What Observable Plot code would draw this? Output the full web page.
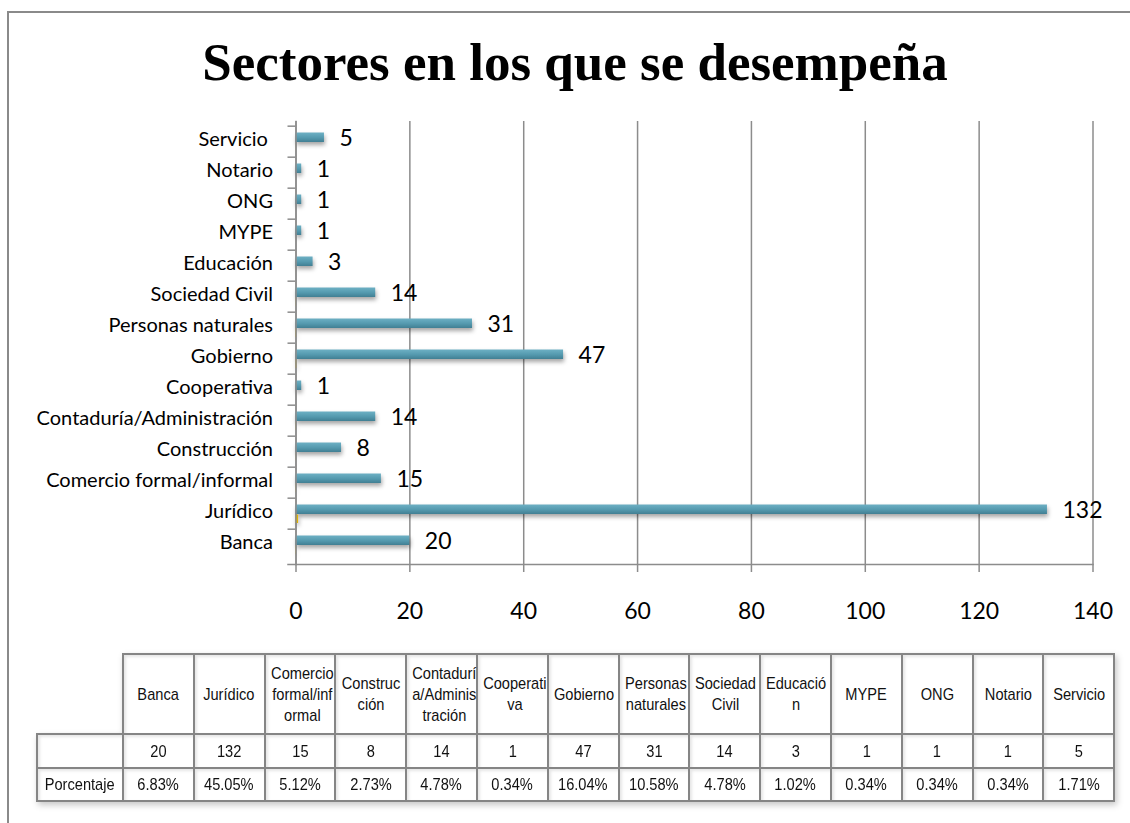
<!DOCTYPE html>
<html>
<head>
<meta charset="utf-8">
<script src="https://cdn.jsdelivr.net/npm/d3@7"></script>
<script src="https://cdn.jsdelivr.net/npm/@observablehq/plot@0.6"></script>
<style>
  html, body { margin: 0; padding: 0; background: #fff; }
  body { width: 1130px; height: 823px; position: relative; overflow: hidden; }
  #frame { position: absolute; left: 7px; top: 11px; width: 1300px; height: 1000px; border: 2px solid #8a8a8a; box-sizing: border-box; }
  #title { position: absolute; left: 0; top: 35px; width: 1150px; text-align: center;
    font-family: "Liberation Serif", "Times New Roman", serif; font-weight: bold; font-size: 53px; line-height: 54px; color: #000; }
  #chart { position: absolute; left: 0; top: 100px; }
  #chart svg g[aria-label="bar"] { filter: drop-shadow(1px 3px 2px rgba(0,0,0,0.35)); }
  #chart svg g[aria-label="y-axis tick label"] text { white-space: pre; }
  #tbl { position: absolute; left: 36px; top: 653px; width: 1077px; border-collapse: collapse; table-layout: fixed;
    font-family: "Liberation Sans", Arial, sans-serif; font-size: 17px; color: #111;
    filter: drop-shadow(2px 3px 3px rgba(0,0,0,0.22)); }
  #tbl td { border: 2px solid #858585; text-align: center; vertical-align: middle; padding: 0; line-height: 21px;
    box-shadow: inset 2px 2px 3px rgba(0,0,0,0.10); background: #fff; overflow: visible; }
  #tbl td span { display: inline-block; white-space: pre-line; transform: scaleX(0.86); transform-origin: center; }
  #tbl td.empty { border-top: none; border-left: none; box-shadow: none; background: transparent; }
  #tbl tr.hdr td { height: 78px; }
  #tbl tr.cnt td { height: 32px; }
  #tbl tr.pct td { height: 31px; }
</style>
</head>
<body>
<div id="frame"></div>
<div id="title">Sectores en los que se desempeña</div>
<div id="chart"></div>
<table id="tbl"></table>
<script>
const categories = ["Banca", "Jurídico", "Comercio formal/informal", "Construcción", "Contaduría/Administración",
  "Cooperativa", "Gobierno", "Personas naturales", "Sociedad Civil", "Educación", "MYPE", "ONG", "Notario", "Servicio "];
const counts = [20, 132, 15, 8, 14, 1, 47, 31, 14, 3, 1, 1, 1, 5];
const percents = [0.0683, 0.4505, 0.0512, 0.0273, 0.0478, 0.0034, 0.1604, 0.1058, 0.0478, 0.0102, 0.0034, 0.0034, 0.0034, 0.0171];
const tableHeaders = ["Banca", "Jurídico", "Comercio\nformal/inf\normal", "Construc\nción", "Contadurí\na/Adminis\ntración",
  "Cooperati\nva", "Gobierno", "Personas\nnaturales", "Sociedad\nCivil", "Educació\nn", "MYPE", "ONG", "Notario", "Servicio"];
const rowLabels = ["", "Porcentaje"];
const xTicks = [0, 20, 40, 60, 80, 100, 120, 140];

const data = categories.map((c, i) => ({cat: c, count: counts[i], pct: percents[i]}));

const W = 1130, H = 540, mT = 21, mB = 76, mL = 295.5, mR = 37.5;
const bw = (H - mT - mB) / categories.length;

const defs = () => {
  const d = d3.create("svg:defs");
  const g = d.append("linearGradient").attr("id", "tealGrad").attr("x1", 0).attr("y1", 0).attr("x2", 0).attr("y2", 1);
  g.append("stop").attr("offset", "0%").attr("stop-color", "#6db0c4");
  g.append("stop").attr("offset", "55%").attr("stop-color", "#5499ae");
  g.append("stop").attr("offset", "100%").attr("stop-color", "#417f93");
  return d.node();
};

const plot = Plot.plot({
  width: W, height: H,
  marginTop: mT, marginBottom: mB, marginLeft: mL, marginRight: mR,
  style: {fontFamily: "Lato, 'Open Sans', sans-serif", fontSize: "20px", color: "#000", background: "transparent", overflow: "visible"},
  x: {domain: [0, 140], ticks: xTicks, label: null},
  y: {domain: categories.slice().reverse(), padding: 0, label: null},
  marks: [
    defs,
    Plot.gridX(xTicks, {stroke: "#8c8c8c", strokeOpacity: 1, strokeWidth: 1.5}),
    Plot.barX(data, {x: "count", y: "cat", fill: "url(#tealGrad)", insetTop: 6.5, insetBottom: 15}),
    Plot.barX(data, {x: "pct", y: "cat", fill: "#e2b400", insetTop: 16.5, insetBottom: 6}),
    Plot.text(data, {x: "count", y: "cat", text: d => String(d.count), dx: 15, dy: -3, textAnchor: "start", fontSize: 23, fill: "#000"}),
    Plot.axisX({ticks: xTicks, tickSize: 8, tickPadding: 30, fontSize: 23, stroke: "#8c8c8c", strokeWidth: 1.5, fill: "#000", label: null}),
    Plot.axisY({tickSize: 0, tickPadding: 23, fontSize: 20, dy: -2, fill: "#000", label: null}),
    Plot.axisY({tickSize: 8, fill: "none", dy: -bw / 2, stroke: "#8c8c8c", strokeWidth: 1.5, label: null}),
    Plot.frame({anchor: "bottom", insetLeft: -8, stroke: "#8c8c8c", strokeWidth: 1.5}),
    Plot.frame({anchor: "left", stroke: "#8c8c8c", strokeWidth: 1.5})
  ]
});
document.getElementById("chart").appendChild(plot);

// Data table below the chart
const tbl = d3.select("#tbl");
const cg = tbl.append("colgroup");
cg.append("col").style("width", "86px");
categories.forEach(() => cg.append("col").style("width", "70.8px"));
const hdr = tbl.append("tr").attr("class", "hdr");
hdr.append("td").attr("class", "empty");
tableHeaders.forEach(h => hdr.append("td").append("span").text(h));
const r1 = tbl.append("tr").attr("class", "cnt");
r1.append("td").append("span").text(rowLabels[0]);
counts.forEach(v => r1.append("td").append("span").text(v));
const r2 = tbl.append("tr").attr("class", "pct");
r2.append("td").append("span").text(rowLabels[1]);
percents.forEach(v => r2.append("td").append("span").text(d3.format(".2%")(v)));
</script>
</body>
</html>
